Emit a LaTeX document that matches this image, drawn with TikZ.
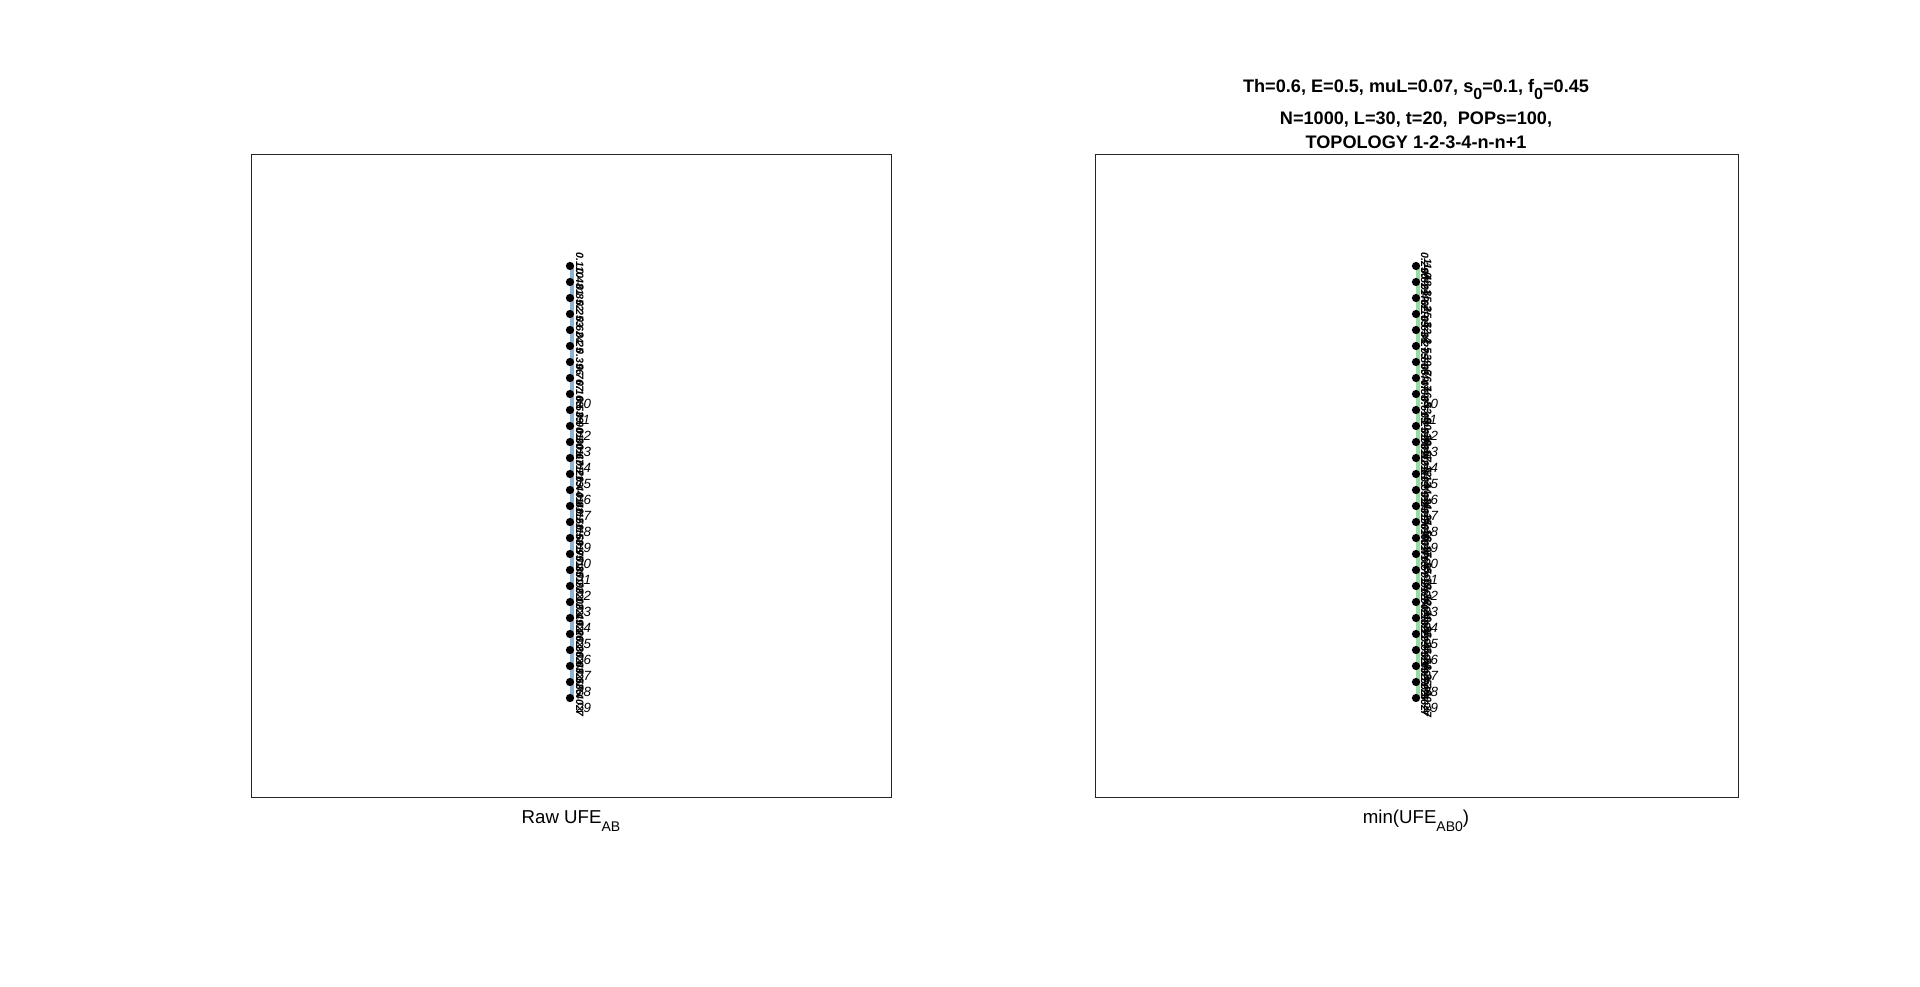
\documentclass[tikz,border=0pt]{standalone}
\usepackage{fontspec}
\setmainfont{Liberation Sans}
\newcommand{\tsub}[1]{\raisebox{-5.5pt}{\fontsize{12}{12}\selectfont\bfseries #1}}
\newcommand{\xsub}[1]{\raisebox{-6pt}{\fontsize{10.5}{10.5}\selectfont #1}}
\begin{document}
\begin{tikzpicture}[x=0.75pt,y=-0.75pt]
\tikzset{
  axbox/.style={draw=black!85, line width=0.6pt},
  dotnode/.style={circle, fill=black, inner sep=0pt, minimum size=6.2pt},
  ilabel/.style={font=\fontsize{10}{10}\selectfont\itshape, inner sep=0pt, anchor=west},
  clutter/.style={font=\fontsize{8}{8}\selectfont\bfseries\itshape, inner sep=0pt, rotate=-90, anchor=base west},
  titletext/.style={font=\fontsize{13.6}{14}\selectfont\bfseries, inner sep=0pt, anchor=base},
  xlab/.style={font=\fontsize{14}{15}\selectfont, inner sep=0pt, anchor=base},
  blueline/.style={draw={rgb,255:red,140;green,178;blue,214}, line width=3pt},
  greenline/.style={draw={rgb,255:red,150;green,222;blue,160}, line width=3pt}
}
\useasboundingbox (0,0) rectangle (1920,986);
\fill[white] (0,0) rectangle (1920,986);
% axes boxes
\draw[axbox] (251,154) rectangle (891,797);
\draw[axbox] (1095,154) rectangle (1738,797);
% column lines
\coordinate (LA) at (572,266);
\coordinate (LB) at (572,698);
\coordinate (RA) at (1418,266);
\coordinate (RB) at (1418,698);
\draw[blueline] (LA) -- (LB);
\draw[greenline] (RA) -- (RB);
% dots
\foreach \k in {0,...,27}{
  \node[dotnode] (L\k) at (570,{266+16*\k}) {};
  \node[dotnode] (R\k) at (1416,{266+16*\k}) {};
}
% index labels
\foreach \i in {10,...,29}{
  \node[ilabel] (LI\i) at (576,{404+16*(\i-10)}) {\i};
  \node[ilabel] (RI\i) at (1423,{404+16*(\i-10)}) {\i};
}
% cluttered rotated labels
\foreach \k in {0,...,27}{
  \pgfmathtruncatemacro\r{mod(\k*37+11,97)}
  \pgfmathtruncatemacro\q{mod(\k*53+29,89)}
  \node[clutter] (LC\k) at (576,{252+16*\k}) {0.\r\k};
  \node[clutter] (RC\k) at (1421,{252+16*\k}) {0.\q\k};
  \node[clutter] (RD\k) at (1424,{258+16*\k}) {\r.\k};
}
% title
\node[titletext] (t1) at (1416,92) {Th=0.6, E=0.5, muL=0.07, s\tsub{0}=0.1, f\tsub{0}=0.45};
\node[titletext] (t2) at (1416,124) {N=1000, L=30, t=20, \ POPs=100,};
\node[titletext] (t3) at (1416,148) {TOPOLOGY 1-2-3-4-n-n+1};
% x labels
\node[xlab] (xl1) at (571,823) {Raw UFE\xsub{AB}};
\node[xlab] (xl2) at (1416,823) {min(UFE\xsub{AB0})};
\end{tikzpicture}
\end{document}
